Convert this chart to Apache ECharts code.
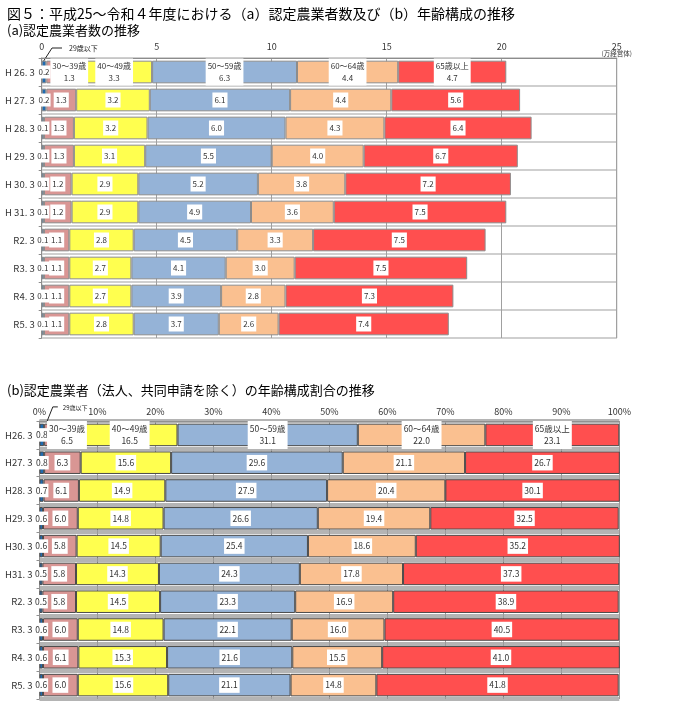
<!DOCTYPE html>
<html><head><meta charset="utf-8">
<script src="https://cdn.jsdelivr.net/npm/echarts/dist/echarts.min.js"></script>
<style>html,body{margin:0;padding:0;background:#fff}#c{width:678px;height:720px}</style>
</head><body><div id="c"></div>
<script>
// ---- data ----
const ageGroups = ['29歳以下', '30～39歳', '40～49歳', '50～59歳', '60～64歳', '65歳以上'];
const categoriesA = ['H 26. 3', 'H 27. 3', 'H 28. 3', 'H 29. 3', 'H 30. 3', 'H 31. 3', 'R2. 3', 'R3. 3', 'R4. 3', 'R5. 3'];
const categoriesB = ['H26. 3', 'H27. 3', 'H28. 3', 'H29. 3', 'H30. 3', 'H31. 3', 'R2. 3', 'R3. 3', 'R4. 3', 'R5. 3'];
// (a) number of certified farmers (10,000 entities)
const aUnder29 = [0.2, 0.2, 0.1, 0.1, 0.1, 0.1, 0.1, 0.1, 0.1, 0.1];
const a30s     = [1.3, 1.3, 1.3, 1.3, 1.2, 1.2, 1.1, 1.1, 1.1, 1.1];
const a40s     = [3.3, 3.2, 3.2, 3.1, 2.9, 2.9, 2.8, 2.7, 2.7, 2.8];
const a50s     = [6.3, 6.1, 6.0, 5.5, 5.2, 4.9, 4.5, 4.1, 3.9, 3.7];
const a60to64  = [4.4, 4.4, 4.3, 4.0, 3.8, 3.6, 3.3, 3.0, 2.8, 2.6];
const a65over  = [4.7, 5.6, 6.4, 6.7, 7.2, 7.5, 7.5, 7.5, 7.3, 7.4];
// (b) age composition (%)
const bUnder29 = [0.8, 0.8, 0.7, 0.6, 0.6, 0.5, 0.5, 0.6, 0.6, 0.6];
const b30s     = [6.5, 6.3, 6.1, 6.0, 5.8, 5.8, 5.8, 6.0, 6.1, 6.0];
const b40s     = [16.5, 15.6, 14.9, 14.8, 14.5, 14.3, 14.5, 14.8, 15.3, 15.6];
const b50s     = [31.1, 29.6, 27.9, 26.6, 25.4, 24.3, 23.3, 22.1, 21.6, 21.1];
const b60to64  = [22.0, 21.1, 20.4, 19.4, 18.6, 17.8, 16.9, 16.0, 15.5, 14.8];
const b65over  = [23.1, 26.7, 30.1, 32.5, 35.2, 37.3, 38.9, 40.5, 41.0, 41.8];
const xTicksA = [0, 5, 10, 15, 20, 25];
const xTicksB = ['0%', '10%', '20%', '30%', '40%', '50%', '60%', '70%', '80%', '90%', '100%'];
const unitA = '(万経営体)';

const colors = ['#1F6BB0', '#D99694', '#FFFF4F', '#95B3D7', '#FAC090', '#FF4F4F'];
const FONT = '"Noto Sans CJK JP", "Noto Sans", sans-serif';

const seriesA = [aUnder29, a30s, a40s, a50s, a60to64, a65over];
const seriesB = [bUnder29, b30s, b40s, b50s, b60to64, b65over];

function build(arrs, gi, borderColor, fs, firstShift) {
  return arrs.map((arr, k) => ({
    name: ageGroups[k],
    type: 'bar',
    stack: 's' + gi,
    xAxisIndex: gi, yAxisIndex: gi,
    barCategoryGap: '19%',
    itemStyle: { color: colors[k], borderColor: borderColor, borderWidth: 1 },
    label: {
      show: true, position: 'inside', fontFamily: FONT, fontSize: fs, color: '#333',
      backgroundColor: '#fff', padding: k === 0 ? [1, 1, 0, 1] : [2, 2, 1, 2], lineHeight: fs + 4,
      formatter: p => p.value.toFixed(1)
    },
    data: arr.map((v, i) => (i === 0 && k > 0)
      ? { value: v, label: { formatter: ageGroups[k] + '\n' + v.toFixed(1), offset: [k === 1 ? firstShift : 0, 0] } }
      : v)
  }));
}

const chart = echarts.init(document.getElementById('c'), null, { renderer: 'canvas' });
const option = {
  animation: false,
  textStyle: { fontFamily: FONT },
  title: [
    { text: '図５：平成25～令和４年度における（a）認定農業者数及び（b）年齢構成の推移', left: 2, top: 2,
      textStyle: { fontSize: 14, fontWeight: 'normal', color: '#000', fontFamily: FONT } },
    { text: '(a)認定農業者数の推移', left: 2, top: 19,
      textStyle: { fontSize: 13, fontWeight: 'normal', color: '#000', fontFamily: FONT } },
    { text: '(b)認定農業者（法人、共同申請を除く）の年齢構成割合の推移', left: 2, top: 379,
      textStyle: { fontSize: 13, fontWeight: 'normal', color: '#000', fontFamily: FONT } }
  ],
  grid: [
    { left: 41.7, right: 61.3, top: 58, height: 280, show: true, borderColor: '#8c8c8c', borderWidth: 1 },
    { left: 39.5, right: 58.7, top: 421, height: 278 }
  ],
  xAxis: [
    { gridIndex: 0, type: 'value', position: 'top', min: 0, max: 25, interval: 5,
      axisLine: { show: true, lineStyle: { color: '#8c8c8c' } },
      axisTick: { show: false },
      axisLabel: { fontSize: 9, color: '#333', margin: 7, formatter: v => String(xTicksA[v / 5]) },
      splitLine: { show: true, lineStyle: { color: '#a0a0a0', width: 1 } } },
    { gridIndex: 1, type: 'value', position: 'top', min: 0, max: 100, interval: 10,
      axisLine: { show: true, lineStyle: { color: '#909090' } },
      axisTick: { show: false },
      axisLabel: { fontSize: 9, color: '#333', margin: 5, formatter: v => xTicksB[v / 10] },
      splitLine: { show: true, lineStyle: { color: '#9a9a9a', width: 1 } } }
  ],
  yAxis: [
    { gridIndex: 0, type: 'category', inverse: true, data: categoriesA,
      axisLine: { show: true, lineStyle: { color: '#8c8c8c' } },
      axisTick: { show: true, length: 3, lineStyle: { color: '#8c8c8c' } },
      axisLabel: { fontSize: 9.5, color: '#333', margin: 7, fontFamily: FONT },
      splitLine: { show: true, lineStyle: { color: '#cfcfcf', width: 2 } } },
    { gridIndex: 1, type: 'category', inverse: true, data: categoriesB,
      axisLine: { show: true, lineStyle: { color: '#909090' } },
      axisTick: { show: true, length: 3, lineStyle: { color: '#909090' } },
      axisLabel: { fontSize: 9.5, color: '#333', margin: 7, fontFamily: FONT },
      splitLine: { show: true, lineStyle: { color: '#b4b4b4', width: 4 } } }
  ],
  series: [].concat(build(seriesA, 0, '#8c8c8c', 8, 8), build(seriesB, 1, '#4a4a4a', 8.5, 4))
};
chart.setOption(option);

// annotations anchored on the data (29歳以下 first row)
const pa = chart.convertToPixel({ xAxisIndex: 0, yAxisIndex: 0 }, [aUnder29[0] / 2, 0]);
const pb = chart.convertToPixel({ xAxisIndex: 1, yAxisIndex: 1 }, [bUnder29[0] / 2, 0]);
const pu = chart.convertToPixel({ xAxisIndex: 0, yAxisIndex: 0 }, [xTicksA[xTicksA.length - 1], 0]);
chart.setOption({
  graphic: [
    { type: 'polyline', shape: { points: [[pa[0] - 1, pa[1] - 10], [pa[0] + 8, pa[1] - 24], [pa[0] + 18, pa[1] - 24]] },
      style: { stroke: '#222', lineWidth: 1, fill: null } },
    { type: 'text', x: pa[0] + 25, y: pa[1] - 24, style: { text: ageGroups[0], fontSize: 7, fill: '#222', fontFamily: FONT, verticalAlign: 'middle' } },
    { type: 'polyline', shape: { points: [[pb[0] + 5, pb[1] - 13], [pb[0] + 11, pb[1] - 28], [pb[0] + 16, pb[1] - 28]] },
      style: { stroke: '#222', lineWidth: 1, fill: null } },
    { type: 'text', x: pb[0] + 21, y: pb[1] - 27, style: { text: ageGroups[0], fontSize: 6, fill: '#222', fontFamily: FONT, verticalAlign: 'middle' } },
    { type: 'text', x: pu[0], y: 54, style: { text: unitA, fontSize: 6.5, fill: '#333', fontFamily: FONT, align: 'center', verticalAlign: 'middle' } }
  ]
});
</script></body></html>
